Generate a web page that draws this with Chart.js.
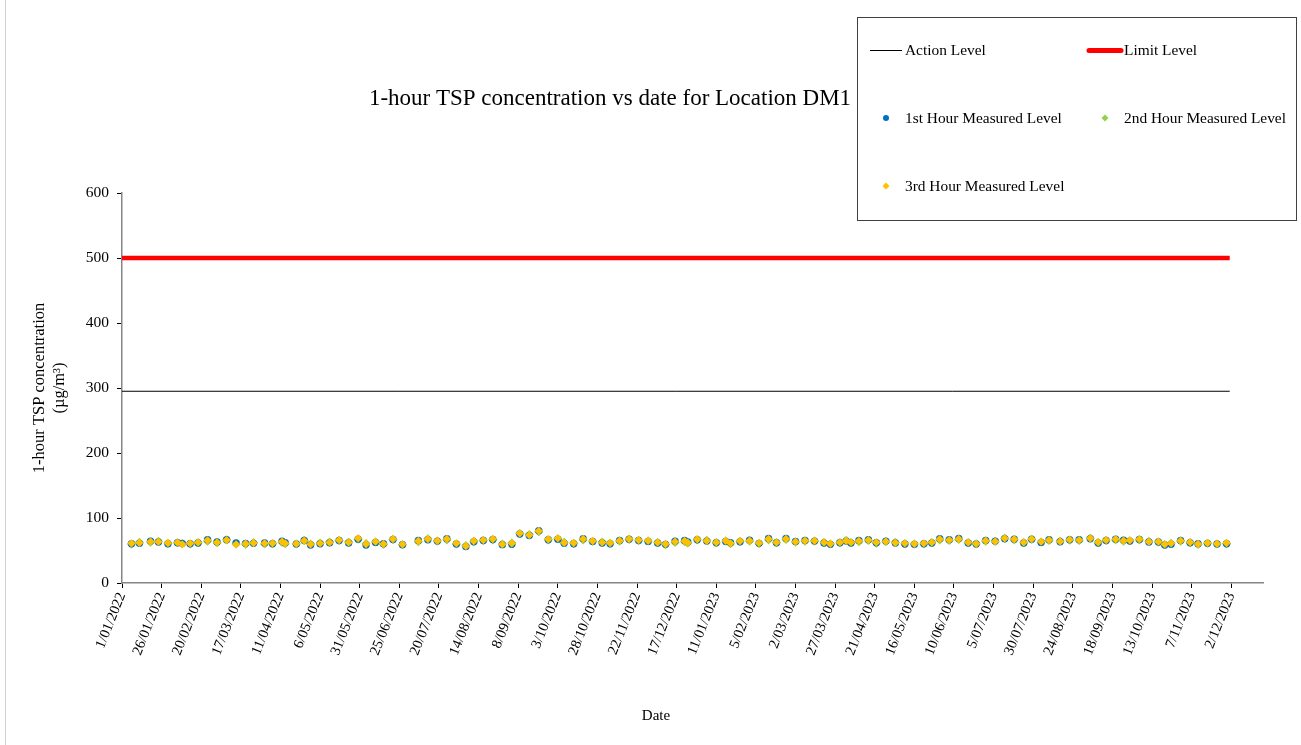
<!DOCTYPE html>
<html>
<head>
<meta charset="utf-8">
<title>1-hour TSP concentration vs date for Location DM1</title>
<script src="https://cdn.jsdelivr.net/npm/chart.js@4.4.1/dist/chart.umd.min.js"></script>
<style>
	body { margin: 0; background: #fff; }
	#wrap { width: 1301px; height: 745px; }
</style>
</head>
<body>
<div id="wrap"><canvas id="tspChart"></canvas></div>
<script>
const tspChart = document.getElementById('tspChart');

// sampling days, counted from 1/01/2022
const sampleDays = [
	6, 11, 18, 23, 29, 35, 38, 43, 48, 54, 60, 66, 72, 78, 83, 90, 95, 101, 103, 110, 115,
	119, 125, 131, 137, 143, 149, 154, 160, 165, 171, 177, 187, 193, 199, 205, 211, 217, 222, 228, 234,
	240, 246, 251, 257, 263, 269, 275, 279, 285, 291, 297, 303, 308, 314, 320, 326, 332, 338, 343, 349,
	355, 357, 363, 369, 375, 381, 384, 390, 396, 402, 408, 413, 419, 425, 431, 437, 443, 447, 453, 457, 460, 465,
	471, 476, 482, 488, 494, 500, 506, 511, 516, 522, 528, 534, 539, 545, 551, 557, 563, 569, 574, 580, 585,
	592, 598, 604, 611, 616, 621, 627, 632, 636, 642, 648, 654, 658, 662, 668, 674, 679, 685, 691, 697
];

const firstHour = [
	60.5, 61, 64.5, 63, 60.5, 62, 61, 60.5, 61.5, 66.5, 63, 66.5, 61.5, 61, 61, 61.5, 60.5, 64.5, 62, 60, 65.5,
	58.5, 60.5, 62, 65.5, 61.5, 67.5, 58.5, 62.5, 60.5, 67, 59, 65.5, 66.5, 64.5, 68, 60, 56, 63.5, 65.5, 67,
	59, 59.5, 75.5, 73, 80.5, 66.5, 67.5, 61, 60.5, 68, 64, 61.5, 60.5, 65.5, 67.5, 65.5, 64, 61.5, 59.5, 64.5,
	65.5, 63, 66.5, 64.5, 62, 64, 62, 63.5, 66, 61, 68.5, 62, 68.5, 64, 65.5, 64.5, 61.5, 59.5, 62, 64.5, 61.5, 65.5,
	66.5, 62, 64.5, 61.5, 60, 59.5, 60.5, 61.5, 68, 66.5, 68.5, 61.5, 60, 65.5, 64.5, 68, 67.5, 61.5, 67.5, 62.5, 66.5,
	63.5, 66.5, 66.5, 68, 61.5, 65.5, 67.5, 66, 64.5, 67, 63, 63, 58.5, 59.5, 65.5, 62, 60.5, 61, 60, 60.5
];

const secondHour = [
	60, 62.5, 63, 64, 61, 62, 60.5, 60, 62, 64.5, 62, 66.5, 60, 59.5, 62, 60, 60.5, 62.5, 60.5, 60, 65.5,
	60, 61.5, 63, 65.5, 63, 67.5, 60.5, 63, 59.5, 67, 59, 63.5, 68, 64.5, 66.5, 60, 57.5, 64, 65.5, 66.5,
	60, 61.5, 76, 74.5, 79, 66.5, 68, 62.5, 61, 66.5, 64, 63, 61, 64.5, 67, 65.5, 64.5, 62, 59, 62.5,
	63.5, 61.5, 66.5, 65.5, 62, 64.5, 60.5, 64, 64.5, 60.5, 66.5, 62, 67, 63, 64.5, 64.5, 62, 60, 62, 65.5, 62, 63.5,
	65.5, 61.5, 63.5, 62.5, 60.5, 60, 60, 62, 66.5, 65.5, 67, 62, 60, 64.5, 64, 69, 66.5, 62, 67, 63, 65.5,
	64.5, 66, 65.5, 69, 62, 65.5, 66.5, 64.5, 65, 66.5, 64, 63, 59, 61, 64.5, 62, 59.5, 61, 60, 60.5
];

const thirdHour = [
	61, 62, 63.6, 63.6, 61.5, 62.5, 59.5, 61, 62.5, 65.6, 62.5, 66, 59.5, 60.5, 61.5, 61, 61, 63.6, 61, 60.5, 65,
	59.5, 61, 62.5, 66, 62.5, 68.7, 60, 63.6, 60, 67.7, 59.5, 64.6, 67.7, 65, 67.7, 61, 57, 64.6, 66, 67.7,
	59.5, 61, 76.4, 73.8, 80, 67.2, 68.7, 62, 61.5, 67.7, 64.6, 62.5, 61.5, 65, 67.7, 66, 65, 62.5, 60, 63.6,
	64.6, 62, 67.2, 65, 62.5, 65, 61, 64.6, 65, 61.5, 67.7, 62.5, 67.7, 63.6, 65, 65, 62.5, 60.5, 62.5, 65, 62.5, 64.6,
	66, 62.5, 64, 62, 61, 60.5, 61, 62.5, 67.2, 66, 67.7, 62.5, 60.5, 65, 64, 68.7, 67.2, 62.5, 67.7, 63.6, 66,
	64, 66.7, 66, 68.7, 62.6, 66, 67.2, 65, 65.6, 67.2, 63.6, 63.6, 59.5, 61, 65, 62.6, 60, 61.5, 60.5, 61.5
];

const actionLevel = 295;
const limitLevel = 500;
const levelDays = [0, 699];

const yTicks = [0, 100, 200, 300, 400, 500, 600];
const xTickDays = [0, 25, 50, 75, 100, 125, 150, 175, 200, 225, 250, 275, 300, 325, 350,
	375, 400, 425, 450, 475, 500, 525, 550, 575, 600, 625, 650, 675, 700];

const startDate = Date.UTC(2022, 0, 1);
const fmtDay = (d) => {
	const dt = new Date(startDate + d * 86400000);
	const mm = String(dt.getUTCMonth() + 1).padStart(2, '0');
	return dt.getUTCDate() + '/' + mm + '/' + dt.getUTCFullYear();
};

const toPoints = (vals) => sampleDays.map((d, i) => ({ x: d, y: vals[i] }));
const levelPoints = (v) => levelDays.map((d) => ({ x: d, y: v }));

const FONT = '"Liberation Serif", "Times New Roman", serif';

const legendItems = [
	{ text: 'Action Level', kind: 'line', color: '#000000', width: 1, x: 869, y: 50 },
	{ text: 'Limit Level', kind: 'line', color: '#FF0000', width: 5, x: 1088, y: 50 },
	{ text: '1st Hour Measured Level', kind: 'circle', color: '#0070C0', x: 869, y: 118 },
	{ text: '2nd Hour Measured Level', kind: 'diamond', color: '#92D050', x: 1088, y: 118 },
	{ text: '3rd Hour Measured Level', kind: 'diamond', color: '#FFC000', x: 869, y: 186 },
];

const decor = {
	id: 'decor',
	afterDraw(chart) {
		const ctx = chart.ctx;
		ctx.save();
		// outer frame
		ctx.strokeStyle = '#d0d0d0';
		ctx.lineWidth = 1;
		ctx.strokeRect(5.5, -1, 1300, 747);

		// title
		ctx.fillStyle = '#000';
		ctx.font = '23px ' + FONT;
		ctx.textAlign = 'center';
		ctx.textBaseline = 'middle';
		ctx.fillText('1-hour TSP concentration vs date for Location DM1', 610, 99);

		// x axis title
		ctx.font = '15px ' + FONT;
		ctx.fillText('Date', 656, 716);

		// legend box
		ctx.fillStyle = '#fff';
		ctx.fillRect(857, 17, 439, 203);
		ctx.strokeStyle = '#404040';
		ctx.strokeRect(857.5, 17.5, 439, 203);

		ctx.font = '15.4px ' + FONT;
		ctx.textAlign = 'left';
		legendItems.forEach((it) => {
			if (it.kind === 'line') {
				ctx.strokeStyle = it.color;
				ctx.lineWidth = it.width;
				ctx.lineCap = it.width > 2 ? 'round' : 'butt';
				ctx.beginPath();
				ctx.moveTo(it.x + 1, it.y + 0.5);
				ctx.lineTo(it.x + 33, it.y + 0.5);
				ctx.stroke();
			} else if (it.kind === 'circle') {
				ctx.fillStyle = it.color;
				ctx.beginPath();
				ctx.arc(it.x + 17, it.y, 3, 0, Math.PI * 2);
				ctx.fill();
			} else {
				ctx.fillStyle = it.color;
				ctx.beginPath();
				ctx.moveTo(it.x + 17, it.y - 3.5);
				ctx.lineTo(it.x + 20.5, it.y);
				ctx.lineTo(it.x + 17, it.y + 3.5);
				ctx.lineTo(it.x + 13.5, it.y);
				ctx.closePath();
				ctx.fill();
			}
			ctx.fillStyle = '#000';
			ctx.fillText(it.text, it.x + 36, it.y + 1);
		});
		ctx.restore();
	},
};

const pointSet = (label, vals, color, style, radius, order) => ({
	type: 'scatter',
	label: label,
	data: toPoints(vals),
	pointStyle: style,
	pointRadius: radius,
	pointBackgroundColor: color,
	pointBorderColor: color,
	pointBorderWidth: 0,
	showLine: false,
	order: order,
});

new Chart(tspChart, {
	type: 'scatter',
	data: {
		datasets: [
			pointSet('3rd Hour Measured Level', thirdHour, '#FFC000', 'rectRot', 4.2, 1),
			pointSet('1st Hour Measured Level', firstHour, '#0070C0', 'circle', 3.7, 2),
			pointSet('2nd Hour Measured Level', secondHour, '#92D050', 'rectRot', 4.6, 3),
			{
				type: 'line',
				label: 'Action Level',
				data: levelPoints(actionLevel),
				borderColor: '#000000',
				borderWidth: 1,
				pointRadius: 0,
				order: 4,
			},
			{
				type: 'line',
				label: 'Limit Level',
				data: levelPoints(limitLevel),
				borderColor: '#FF0000',
				borderWidth: 4.5,
				pointRadius: 0,
				order: 5,
			},
		],
	},
	options: {
		responsive: true,
		maintainAspectRatio: false,
		animation: false,
		layout: { padding: { top: 193, right: 38, left: 0, bottom: 0 } },
		plugins: {
			legend: { display: false },
			tooltip: { enabled: false },
			title: { display: false },
		},
		scales: {
			x: {
				type: 'linear',
				min: 0,
				max: 720,
				afterBuildTicks: (s) => { s.ticks = xTickDays.map((v) => ({ value: v })); },
				afterFit: (s) => { s.height = 162; },
				grid: { display: true, drawOnChartArea: false, drawTicks: true, tickLength: 5, color: '#000' },
				border: { color: '#868686', width: 1.5 },
				ticks: {
					autoSkip: false,
					minRotation: 68,
					maxRotation: 68,
					color: '#000',
					padding: 2,
					font: { family: FONT, size: 14.5 },
					callback: (v) => fmtDay(v),
				},
			},
			y: {
				min: 0,
				max: 600,
				afterBuildTicks: (s) => { s.ticks = yTicks.map((v) => ({ value: v })); },
				afterFit: (s) => { s.width = 122; },
				grid: { display: true, drawOnChartArea: false, drawTicks: true, tickLength: 5, color: '#000' },
				border: { color: '#868686', width: 1.5 },
				ticks: {
					color: '#000',
					padding: 8,
					font: { family: FONT, size: 15.5 },
				},
				title: {
					display: true,
					text: ['1-hour TSP concentration', '(µg/m³)'],
					color: '#000',
					font: { family: FONT, size: 16.5 },
					padding: { top: 30, bottom: 0 },
				},
			},
		},
	},
	plugins: [decor],
});
</script>
</body>
</html>
